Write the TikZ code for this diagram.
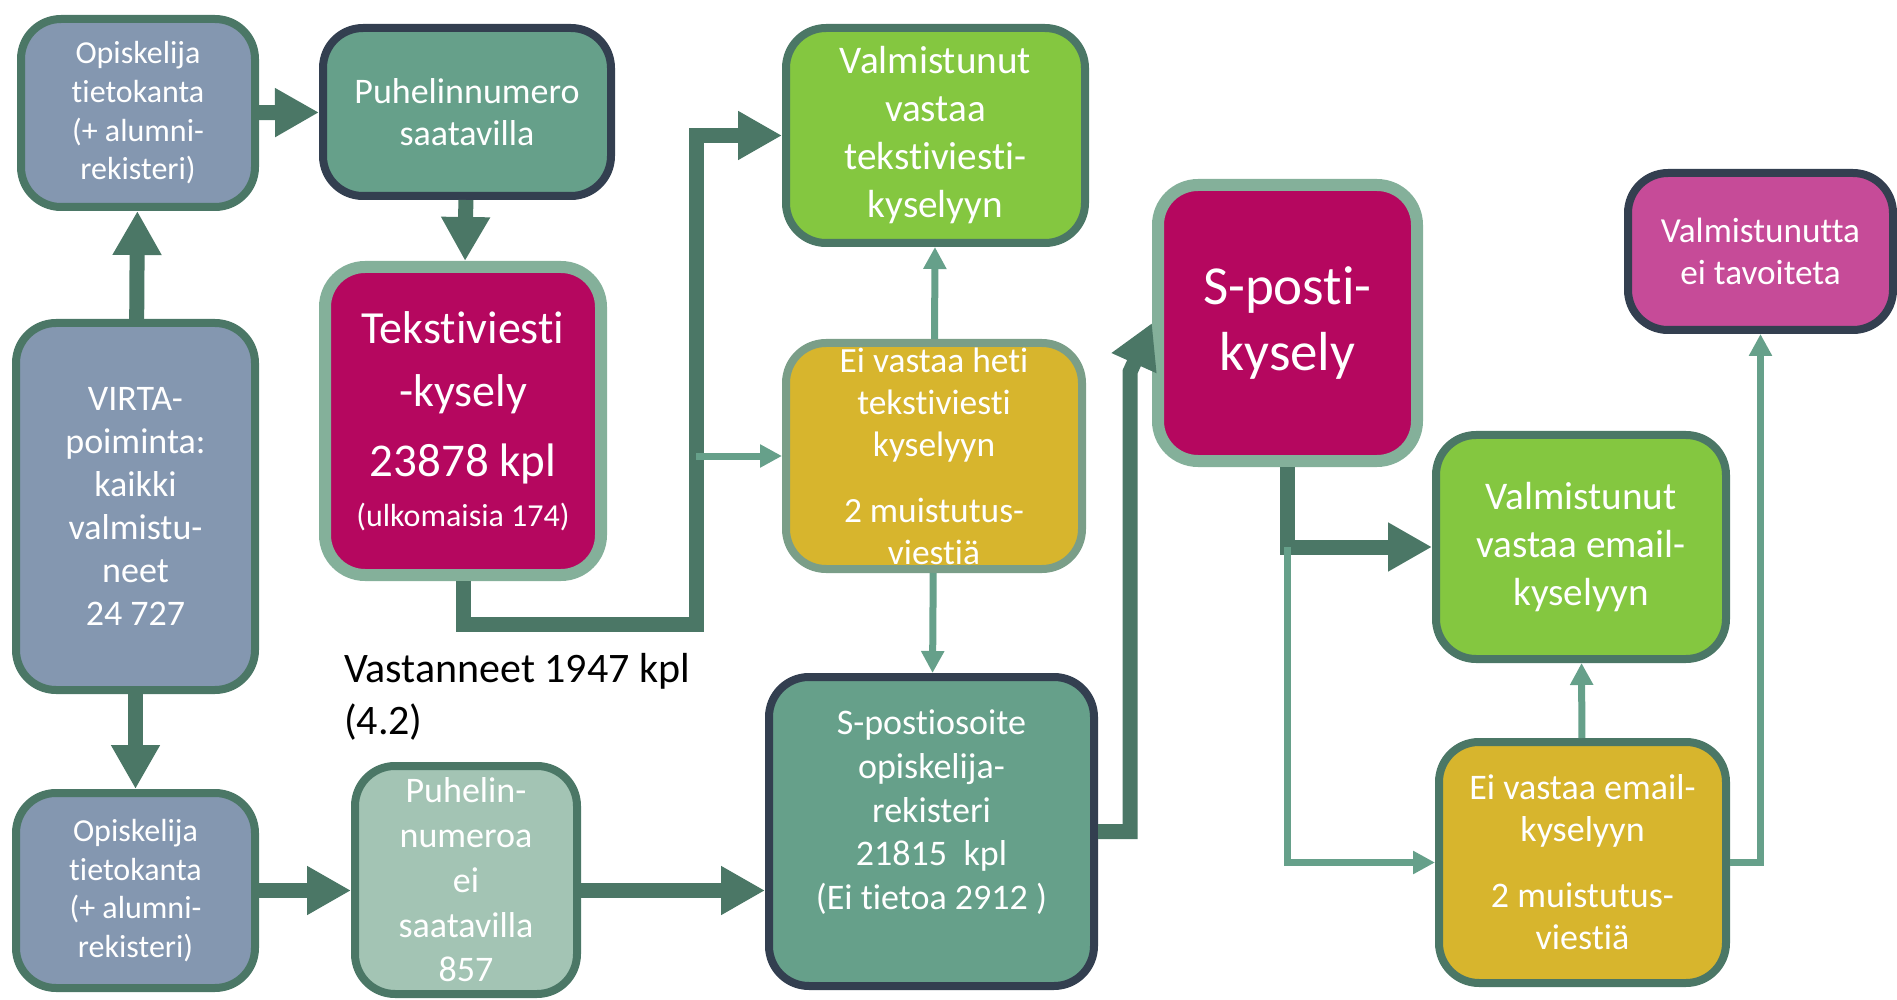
\documentclass[tikz,border=0pt]{standalone}
\usepackage{fontspec}
\setmainfont{Carlito}[Ligatures=NoCommon]
\usepackage{xcolor}
\usepackage{tikz}
\usetikzlibrary{arrows.meta}
\definecolor{slateblue}{HTML}{8497B0}
\definecolor{darkgreen}{HTML}{4B7766}
\definecolor{navyframe}{HTML}{333F50}
\definecolor{seagreen}{HTML}{66A08A}
\definecolor{palegreen}{HTML}{A3C4B4}
\definecolor{lightframe}{HTML}{84B09A}
\definecolor{crimson}{HTML}{B5075F}
\definecolor{leaf}{HTML}{84C740}
\definecolor{mustard}{HTML}{D7B52D}
\definecolor{softframe}{HTML}{7A9E88}
\definecolor{orchid}{HTML}{C64B98}

\begin{document}
\begin{tikzpicture}[x=0.5pt, y=-0.5pt,
    flowbox/.style={rounded corners=20pt, line width=4pt, draw=darkgreen, text=white, align=center, inner sep=0pt},
    bigflow/.style={darkgreen, line width=7.5pt, -{Triangle[width=23pt, length=22pt]}},
    thinflow/.style={seagreen, line width=3.5pt, -{Triangle[width=11pt, length=11pt]}}]
    \useasboundingbox (0,0) rectangle (1897,1000);

    % Sources
    \node[flowbox, fill=slateblue, minimum width=117pt, minimum height=94pt, font=\fontsize{16}{19.35}\selectfont] (opt1) at (138,113) {Opiskelija\\tietokanta\\(+ alumni-\\rekisteri)};
    \node[flowbox, fill=slateblue, minimum width=119.5pt, minimum height=183.5pt, font=\fontsize{18}{21.5}\selectfont] (virta) at (135.5,506.5) {VIRTA-\\poiminta:\\kaikki\\valmistu-\\neet\\24 727};
    \node[flowbox, fill=slateblue, minimum width=119.5pt, minimum height=97.5pt, font=\fontsize{16}{19.35}\selectfont] (opt2) at (135.5,890.5) {Opiskelija\\tietokanta\\(+ alumni-\\rekisteri)};

    % Phone numbers
    \node[flowbox, fill=seagreen, draw=navyframe, minimum width=144pt, minimum height=84pt, font=\fontsize{18}{21.2}\selectfont] (puh) at (467,112) {Puhelinnumero\\saatavilla};
    \node[flowbox, fill=palegreen, minimum width=111pt, minimum height=114pt, font=\fontsize{18}{22.4}\selectfont] (puhei) at (466,880) {Puhelin-\\numeroa\\ei\\saatavilla\\857};

    % Text message survey
    \node[flowbox, fill=crimson, draw=lightframe, line width=6pt, minimum width=138pt, minimum height=154pt, font=\fontsize{23}{31.5}\selectfont] (sms) at (463,421) {Tekstiviesti\\-kysely\\[3.5pt]{\fontsize{23.5}{31.5}\selectfont 23878 kpl}\\[-6.5pt]{\fontsize{16}{19}\selectfont (ulkomaisia 174)}};
    \node[flowbox, fill=leaf, minimum width=149.5pt, minimum height=107.5pt, font=\fontsize{19.6}{24}\selectfont] (valm1) at (935.5,135.5) {Valmistunut\\vastaa\\tekstiviesti-\\kyselyyn};
    \node[flowbox, fill=mustard, draw=softframe, minimum width=148pt, minimum height=113pt, font=\fontsize{17.7}{21}\selectfont] (eiv1) at (934,456) {Ei vastaa heti\\tekstiviesti\\kyselyyn\\[12pt]2 muistutus-\\viestiä};
    \node[anchor=west, align=left, font=\fontsize{21}{26}\selectfont] (answered) at (337,697) {Vastanneet 1947 kpl\\(4.2)};

    % E-mail survey
    \node[flowbox, fill=seagreen, draw=navyframe, minimum width=162.5pt, minimum height=154.5pt, font=\fontsize{18}{21.8}\selectfont] (spostios) at (931.5,831.5) {S-postiosoite\\opiskelija-\\rekisteri\\21815\ \ kpl\\(Ei tietoa 2912\ )\\\mbox{}};
    \node[flowbox, fill=crimson, draw=lightframe, line width=6pt, minimum width=129.5pt, minimum height=138pt, font=\fontsize{27.5}{33}\selectfont] (sposti) at (1287.5,323) {S-posti-\\kysely};
    \node[flowbox, fill=orchid, draw=navyframe, minimum width=132.5pt, minimum height=78.5pt, font=\fontsize{17.6}{21}\selectfont] (valmt) at (1760.5,251.5) {Valmistunutta\\ei tavoiteta};
    \node[flowbox, fill=leaf, minimum width=145pt, minimum height=112pt, font=\fontsize{19.6}{24}\selectfont] (valm2) at (1581,547) {Valmistunut\\vastaa email-\\kyselyyn};
    \node[flowbox, fill=mustard, minimum width=143.5pt, minimum height=120.5pt, font=\fontsize{18}{21}\selectfont] (eiv2) at (1582.5,862.5) {Ei vastaa email-\\kyselyyn\\[12pt]2 muistutus-\\viestiä};

    % Connectors: phone branch
    \draw[bigflow] (virta) -- (opt1);
    \draw[bigflow] (virta) -- (opt2);
    \draw[bigflow] (opt1) -- (puh);
    \draw[bigflow] (puh) -- (sms);
    \coordinate (smsbus) at (696,624);
    \draw[bigflow] (sms.south) |- (smsbus) |- (valm1.west);
    \draw[thinflow] (smsbus |- eiv1.west) -- (eiv1.west);
    \draw[thinflow] (eiv1) -- (valm1);
    \draw[thinflow] (eiv1) -- (spostios);

    % Connectors: no phone number
    \draw[bigflow] (opt2.east) -- (opt2.east -| puhei.west);
    \draw[bigflow] (puhei.east |- opt2.east) -- (spostios.west |- opt2.east);
    \coordinate (mailbend) at (1130,372);
    \draw[bigflow] (spostios.east) -| (mailbend) -- (sposti.west);

    % Connectors: e-mail branch
    \draw[bigflow] (sposti.south) |- (valm2.west);
    \draw[thinflow] (sposti.south |- valm2.west) |- (eiv2.west);
    \draw[thinflow] (eiv2) -- (valm2);
    \draw[thinflow] (eiv2.east) -| (valmt.south);
\end{tikzpicture}
\end{document}
